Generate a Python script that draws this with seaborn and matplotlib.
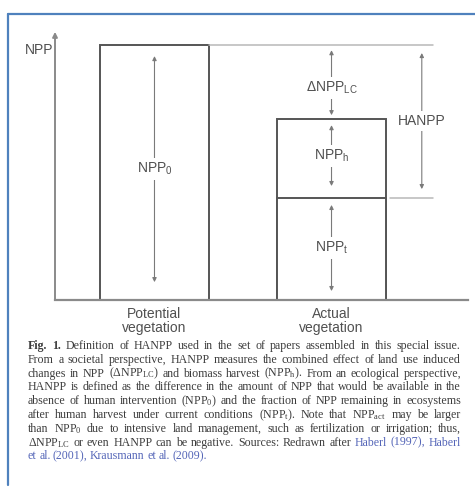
import matplotlib
matplotlib.use("Agg")
import matplotlib.pyplot as plt
import seaborn as sns
import pandas as pd
from matplotlib.lines import Line2D

# data (NPP in relative units, potential vegetation = 100)
categories = ["Potential\nvegetation", "Actual\nvegetation"]
npp_0 = 100     # potential NPP
npp_t = 40      # NPP remaining in ecosystems
npp_h = 31      # harvested NPP
npp_act = npp_t + npp_h
d_npp_lc = npp_0 - npp_act
hanpp = npp_0 - npp_t

caption_lines = [
    "*Fig. *1. Definition of HANPP used in the set of papers assembled in this special issue.",
    "From a societal perspective, HANPP measures the combined effect of land use induced",
    r"changes in NPP (ΔNPP$\mathregular{_{LC}}$) and biomass harvest (NPP$\mathregular{_h}$). From an ecological perspective,",
    "HANPP is defined as the difference in the amount of NPP that would be available in the",
    r"absence of human intervention (NPP$\mathregular{_0}$) and the fraction of NPP remaining in ecosystems",
    r"after human harvest under current conditions (NPP$\mathregular{_t}$). Note that NPP$\mathregular{_{act}}$ may be larger",
    r"than NPP$\mathregular{_0}$ due to intensive land management, such as fertilization or irrigation; thus,",
    r"ΔNPP$\mathregular{_{LC}}$ or even HANPP can be negative. Sources: Redrawn after ^Haberl ^(1997), ^Haberl",
    "^et ^al. ^(2001), ^Krausmann ^et ^al. ^(2009).",
]

sns.set_style("white")
plt.rcParams["font.family"] = ["Liberation Sans", "DejaVu Sans"]

W, H = 475, 495
fig = plt.figure(figsize=(W / 100, H / 100), dpi=100)
ax = fig.add_axes([55 / W, 1 - 300 / H, 413 / W, 273 / H])

bar_w = 0.616
line_c = "#555555"
arrow_c = "#7a7a7a"
text_c = "#505050"

df_tot = pd.DataFrame({"veg": categories, "NPP": [npp_0, npp_act]})
df_rem = pd.DataFrame({"veg": [categories[1]], "NPP": [npp_t]})
sns.barplot(data=df_tot, x="veg", y="NPP", order=categories, color="white",
            edgecolor=line_c, linewidth=1.4, width=bar_w, errorbar=None, ax=ax)
sns.barplot(data=df_rem, x="veg", y="NPP", order=categories, color="white",
            edgecolor=line_c, linewidth=1.4, width=bar_w, errorbar=None, ax=ax)

x_min, x_max = -0.562, 1.771
ax.set_xlim(x_min, x_max)
ax.set_ylim(0, 107.1)
ax.set_xlabel("")
ax.set_ylabel("")
ax.set_yticks([])
for s in ["top", "right", "left"]:
    ax.spines[s].set_visible(False)
ax.spines["bottom"].set_color("#8a8a8a")
ax.spines["bottom"].set_linewidth(1.6)
ax.tick_params(axis="x", length=0, pad=5, labelsize=10, colors=text_c)
for lab in ax.get_xticklabels():
    lab.set_linespacing(1.05)

# y axis with arrow
ax.annotate("", xy=(0, 105.2), xytext=(0, 0),
            xycoords=("axes fraction", "data"),
            arrowprops=dict(arrowstyle="-|>", color="#8a8a8a", lw=1.4,
                            mutation_scale=7, shrinkA=0, shrinkB=0))
ax.text(-0.005, 98, "NPP", transform=ax.get_yaxis_transform(),
        ha="right", va="center", fontsize=10, color=text_c)


def double_arrow(x, y0, y1, label, ypos=None):
    ax.annotate("", xy=(x, y1), xytext=(x, y0),
                arrowprops=dict(arrowstyle="<|-|>", color=arrow_c, lw=0.8,
                                mutation_scale=6, shrinkA=0, shrinkB=0))
    if ypos is None:
        ypos = (y0 + y1) / 2
    ax.text(x, ypos, label, ha="center", va="center", fontsize=10, color=text_c,
            bbox=dict(facecolor="white", edgecolor="none", pad=2))


# reference lines
ax.plot([bar_w / 2, 1.573], [npp_0, npp_0], color="#b8b8b8", lw=1.1)
ax.plot([1 + bar_w / 2 + 0.02, 1.573], [npp_t, npp_t], color="#b8b8b8", lw=1.1)

double_arrow(0, 7, npp_0 - 4.3, r"NPP$\mathregular{_0}$")
double_arrow(1, npp_act + 1.5, npp_0 - 2, r"ΔNPP$\mathregular{_{LC}}$", ypos=npp_act + 12.2)
double_arrow(1, npp_t + 4.7, npp_act - 2.4, r"NPP$\mathregular{_h}$")
double_arrow(1, 3.5, npp_t - 2.7, r"NPP$\mathregular{_t}$")
double_arrow(1.51, npp_t + 3.5, npp_0 - 3.1, "HANPP")

# blue frame
fig.add_artist(Line2D([8 / W, 1], [1 - 14 / H, 1 - 14 / H], color="#4f81bd", lw=1.6))
fig.add_artist(Line2D([8 / W, 8 / W], [1 - 14 / H, 1 - 485 / H], color="#4f81bd", lw=1.6))

# justified caption
renderer = fig.canvas.get_renderer()
x0, x1 = 28 / W, 461 / W
y_first, dy = 346, 13.8
for i, line in enumerate(caption_lines):
    y = 1 - (y_first + i * dy) / H
    texts = []
    for w in line.split(" "):
        kw = dict(fontsize=8.6, color="#3c3c3c", family=["Liberation Serif", "DejaVu Serif"],
                  va="center", ha="left")
        if w.startswith("*"):
            w = w[1:]
            kw["weight"] = "bold"
        if w.startswith("^"):
            w = w[1:]
            kw["color"] = "#5566b8"
        texts.append(fig.text(0, y, w, **kw))
    widths = [t.get_window_extent(renderer).width / W for t in texts]
    if i < len(caption_lines) - 1 and len(texts) > 1:
        gap = (x1 - x0 - sum(widths)) / (len(texts) - 1)
    else:
        gap = 2.4 / W
    x = x0
    for t, wd in zip(texts, widths):
        t.set_x(x)
        x += wd + gap

fig.savefig("out.png", dpi=100)
